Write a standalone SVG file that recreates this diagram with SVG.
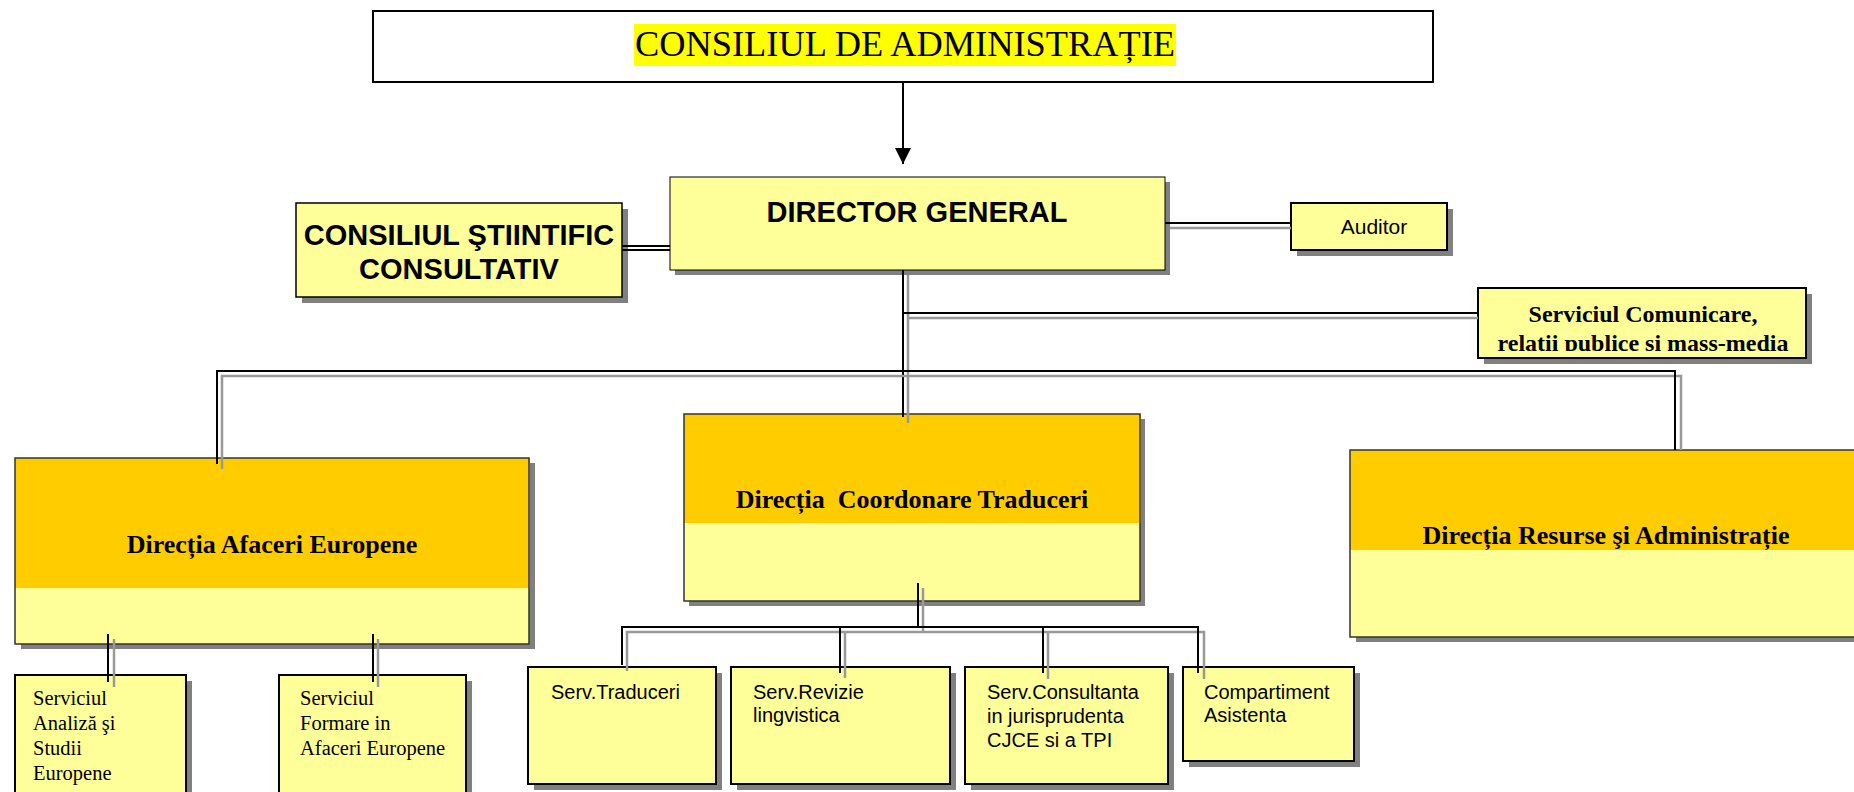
<svg xmlns="http://www.w3.org/2000/svg" width="1854" height="792" viewBox="0 0 1854 792">
<style>
.sh{fill:#808080}
.bx{fill:#FFFF99;stroke:#000;stroke-width:1.5}
.bx2{fill:#FFFF99;stroke:#000;stroke-width:2}
.or{fill:#FFCC00}
.ol{fill:none;stroke:#333;stroke-width:1.5}
.k{fill:none;stroke:#000;stroke-width:2}
.g{fill:none;stroke:#999;stroke-width:2.5}
.sansb{font-family:"Liberation Sans",Arial,sans-serif;font-weight:bold;fill:#000}
.sans{font-family:"Liberation Sans",Arial,sans-serif;fill:#000}
.serb{font-family:"Liberation Serif","Times New Roman",serif;font-weight:bold;fill:#000}
.ser{font-family:"Liberation Serif","Times New Roman",serif;fill:#000}
</style>
<defs>
<marker id="arr" viewBox="0 0 16 16" refX="16" refY="8" markerWidth="16" markerHeight="16" markerUnits="userSpaceOnUse" orient="auto">
<path d="M0,0 L16,8 L0,16 Z" fill="#000"/>
</marker>
<clipPath id="scclip"><rect x="1478" y="288" width="328" height="63"/></clipPath>
</defs>
<rect width="1854" height="792" fill="#fff"/>

<g id="consiliul-administratie">
<rect x="373" y="11" width="1060" height="71" fill="#fff" stroke="#000" stroke-width="2"/>
<rect x="634" y="24" width="542" height="42" fill="#FFFF00"/>
<text class="ser" x="635" y="56" font-size="36" textLength="540" lengthAdjust="spacingAndGlyphs">CONSILIUL DE ADMINISTRAȚIE</text>
</g>

<g id="director-general">
<rect class="sh" x="675" y="182" width="495" height="93"/>
<rect class="bx" x="670" y="177" width="495" height="93" style="stroke-width:1"/>
<text class="sansb" x="917" y="222" font-size="29" text-anchor="middle">DIRECTOR GENERAL</text>
</g>

<g id="consiliul-stiintific">
<rect class="sh" x="302" y="209" width="326" height="94"/>
<rect class="bx" x="296" y="203" width="326" height="94"/>
<text class="sansb" x="459" y="245" font-size="29" text-anchor="middle">CONSILIUL ŞTIINTIFIC</text>
<text class="sansb" x="459" y="279" font-size="29" text-anchor="middle">CONSULTATIV</text>
</g>

<g id="auditor">
<rect class="sh" x="1297" y="209" width="156" height="47"/>
<rect class="bx2" x="1291" y="203" width="156" height="47"/>
<text class="sans" x="1374" y="234" font-size="21" text-anchor="middle">Auditor</text>
</g>

<g id="serviciul-comunicare">
<rect class="sh" x="1484" y="294" width="328" height="70"/>
<rect class="bx2" x="1478" y="288" width="328" height="70"/>
<g clip-path="url(#scclip)">
<text class="serb" x="1643" y="322" font-size="24" text-anchor="middle">Serviciul Comunicare,</text>
<text class="serb" x="1643" y="351" font-size="24" text-anchor="middle">relatii publice şi mass-media</text>
</g>
</g>

<g id="directia-afaceri-europene">
<rect class="sh" x="21" y="463" width="514" height="186"/>
<rect x="15" y="458" width="514" height="186" fill="#FFFF99"/>
<rect class="or" x="15" y="458" width="515" height="130"/>
<rect class="ol" x="15" y="458" width="514" height="186"/>
<text class="serb" x="272" y="553" font-size="26" text-anchor="middle">Direcția Afaceri Europene</text>
</g>

<g id="directia-coordonare-traduceri">
<rect class="sh" x="689" y="419" width="456" height="187"/>
<rect x="684" y="414" width="456" height="187" fill="#FFFF99"/>
<rect class="or" x="684" y="414" width="457" height="109"/>
<rect class="ol" x="684" y="414" width="456" height="187"/>
<text class="serb" x="912" y="508" font-size="26" text-anchor="middle" xml:space="preserve">Direcția  Coordonare Traduceri</text>
</g>

<g id="directia-resurse">
<rect class="sh" x="1356" y="455" width="512" height="187"/>
<rect x="1350" y="450" width="512" height="187" fill="#FFFF99"/>
<rect class="or" x="1350" y="450" width="512" height="100"/>
<rect class="ol" x="1350" y="450" width="512" height="187"/>
<text class="serb" x="1606" y="544" font-size="26" text-anchor="middle">Direcția Resurse şi Administrație</text>
</g>

<g id="serviciul-analiza">
<rect class="sh" x="21" y="681" width="171" height="130"/>
<rect class="bx2" x="15" y="675" width="171" height="130"/>
<text class="ser" font-size="20.5"><tspan x="33" y="705">Serviciul</tspan><tspan x="33" y="730">Analiză şi</tspan><tspan x="33" y="755">Studii</tspan><tspan x="33" y="780">Europene</tspan></text>
</g>

<g id="serviciul-formare">
<rect class="sh" x="285" y="681" width="187" height="130"/>
<rect class="bx2" x="279" y="675" width="187" height="130"/>
<text class="ser" font-size="20.5"><tspan x="300" y="705">Serviciul</tspan><tspan x="300" y="730">Formare in</tspan><tspan x="300" y="755">Afaceri Europene</tspan></text>
</g>

<g id="serv-traduceri">
<rect class="sh" x="534" y="673" width="188" height="117"/>
<rect class="bx2" x="528" y="667" width="188" height="117"/>
<text class="sans" x="551" y="699" font-size="20">Serv.Traduceri</text>
</g>

<g id="serv-revizie">
<rect class="sh" x="737" y="673" width="219" height="117"/>
<rect class="bx2" x="731" y="667" width="219" height="117"/>
<text class="sans" font-size="20"><tspan x="753" y="699">Serv.Revizie</tspan><tspan x="753" y="722">lingvistica</tspan></text>
</g>

<g id="serv-consultanta">
<rect class="sh" x="971" y="673" width="203" height="117"/>
<rect class="bx2" x="965" y="667" width="203" height="117"/>
<text class="sans" font-size="20"><tspan x="987" y="699">Serv.Consultanta</tspan><tspan x="987" y="723">in jurisprudenta</tspan><tspan x="987" y="747">CJCE si a TPI</tspan></text>
</g>

<g id="compartiment-asistenta">
<rect class="sh" x="1189" y="673" width="171" height="94"/>
<rect class="bx2" x="1183" y="667" width="171" height="94"/>
<text class="sans" font-size="20"><tspan x="1204" y="699">Compartiment</tspan><tspan x="1204" y="722">Asistenta</tspan></text>
</g>

<g id="connectors">
<line class="k" x1="903" y1="82" x2="903" y2="164" marker-end="url(#arr)"/>
<line class="k" x1="622" y1="246" x2="670" y2="246" style="stroke-width:1.8"/>
<line class="k" x1="622" y1="250" x2="670" y2="250" style="stroke-width:1.8"/>
<line class="g" x1="1170" y1="228" x2="1291" y2="228"/>
<line class="k" x1="1165" y1="223" x2="1291" y2="223"/>
<line class="g" x1="908" y1="275" x2="908" y2="423"/>
<line class="k" x1="903" y1="270" x2="903" y2="417"/>
<line class="g" x1="908" y1="318" x2="1478" y2="318"/>
<line class="k" x1="903" y1="313" x2="1478" y2="313"/>
<polyline class="g" points="222,469 222,376 1681,376 1681,450"/>
<polyline class="k" points="217,464 217,371 1675,371 1675,450"/>
<line class="g" x1="923" y1="588" x2="923" y2="632"/>
<line class="k" x1="918" y1="583" x2="918" y2="627"/>
<polyline class="g" points="627,671 627,632 1204,632 1204,679"/>
<polyline class="k" points="622,665 622,627 1198,627 1198,673"/>
<line class="g" x1="845" y1="632" x2="845" y2="678"/>
<line class="k" x1="840" y1="627" x2="840" y2="673"/>
<line class="g" x1="1048" y1="632" x2="1048" y2="679"/>
<line class="k" x1="1043" y1="627" x2="1043" y2="673"/>
<line class="g" x1="114" y1="639" x2="114" y2="687"/>
<line class="k" x1="108" y1="634" x2="108" y2="682"/>
<line class="g" x1="378" y1="639" x2="378" y2="687"/>
<line class="k" x1="373" y1="634" x2="373" y2="682"/>
</g>
</svg>
